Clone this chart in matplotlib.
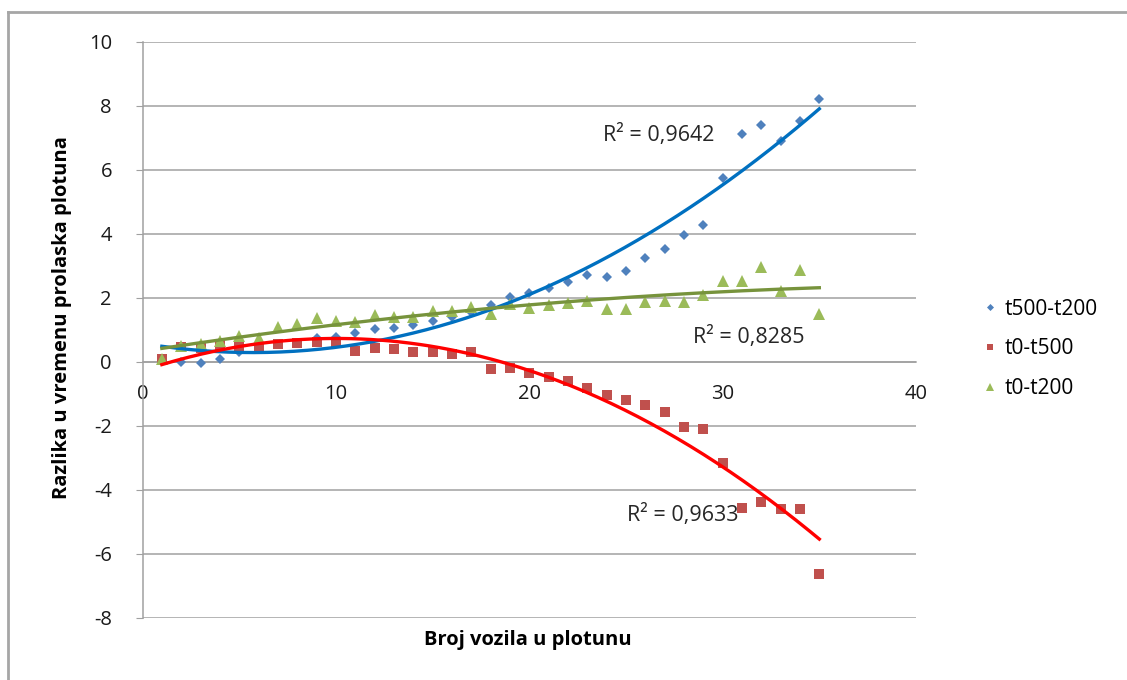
import numpy as np
import matplotlib
matplotlib.use("Agg")
import matplotlib.pyplot as plt
from matplotlib.lines import Line2D

plt.rcParams['font.family'] = ['Open Sans', 'DejaVu Sans']

vehicles = list(range(1, 36))
t500_t200 = [0.05, -0.02, -0.05, 0.10, 0.31, 0.45, 0.55, 0.60, 0.73, 0.76,
             0.91, 1.01, 1.04, 1.15, 1.28, 1.41, 1.56, 1.77, 2.03, 2.14,
             2.31, 2.48, 2.71, 2.66, 2.83, 3.23, 3.51, 3.96, 4.28, 5.73,
             7.12, 7.40, 6.90, 7.53, 8.20]
t0_t500 = [0.07, 0.47, 0.42, 0.52, 0.50, 0.47, 0.54, 0.57, 0.63, 0.63,
           0.33, 0.42, 0.40, 0.29, 0.29, 0.24, 0.29, -0.24, -0.19, -0.36,
           -0.47, -0.59, -0.81, -1.04, -1.20, -1.36, -1.56, -2.05, -2.09, -3.18,
           -4.58, -4.37, -4.60, -4.61, -6.63]
t0_t200 = [0.10, 0.49, 0.55, 0.66, 0.80, 0.73, 1.09, 1.17, 1.36, 1.27,
           1.25, 1.46, 1.39, 1.41, 1.59, 1.58, 1.70, 1.48, 1.80, 1.67,
           1.77, 1.84, 1.91, 1.64, 1.64, 1.86, 1.91, 1.86, 2.08, 2.52,
           2.52, 2.95, 2.22, 2.87, 1.49]
series_names = ['t500-t200', 't0-t500', 't0-t200']
r2_labels = ['R² = 0,9642', 'R² = 0,9633', 'R² = 0,8285']
trend_degree = 2
x_ticks = [0, 10, 20, 30, 40]
y_ticks = [-8, -6, -4, -2, 0, 2, 4, 6, 8, 10]
x_label = 'Broj vozila u plotunu'
y_label = 'Razlika u vremenu prolaska plotuna'

marker_colors = ['#4F81BD', '#C0504D', '#9BBB59']
line_colors = ['#0070C0', '#FF0000', '#77933C']
markers = ['D', 's', '^']
msizes = [5.5, 7, 8]

fig = plt.figure(figsize=(11.27, 6.80), dpi=100)
ax = fig.add_axes([142.5 / 1127, 1 - 617.7 / 680, (916 - 142.5) / 1127, (617.7 - 41.7) / 680])

x = np.array(vehicles, dtype=float)
xs = np.linspace(x.min(), x.max(), 200)
data = [t500_t200, t0_t500, t0_t200]
for ys, name, mc, mk, ms in zip(data, series_names, marker_colors, markers, msizes):
    ax.plot(x, ys, linestyle='none', marker=mk, markersize=ms, color=mc,
            markeredgewidth=0, label=name, zorder=3)
for ys, lc in zip(data, line_colors):
    coef = np.polyfit(x, np.array(ys), trend_degree)
    ax.plot(xs, np.polyval(coef, xs), color=lc, lw=2.4, zorder=4)

ax.set_xlim(0, 40)
ax.set_ylim(-8, 10)
ax.set_xticks(x_ticks)
ax.set_yticks(y_ticks)
ax.set_yticklabels([str(v) for v in y_ticks])
ax.grid(axis='y', color='#A0A0A0', lw=1.1)
ax.set_axisbelow(True)
for s in ['top', 'right']:
    ax.spines[s].set_visible(False)
ax.spines['left'].set_color('#A0A0A0')
ax.spines['left'].set_linewidth(1.1)
ax.spines['bottom'].set_position(('data', 0))
ax.spines['bottom'].set_color('#A0A0A0')
ax.spines['bottom'].set_linewidth(1.1)
ax.tick_params(axis='x', length=0, pad=16, labelsize=14.5, labelcolor='#1a1a1a')
ax.tick_params(axis='y', length=5, color='#A0A0A0', pad=17, labelsize=14.5, labelcolor='#1a1a1a')

fig.text(528 / 1127, 1 - 640 / 680, x_label, ha='center', va='center',
         fontsize=14.5, fontweight='bold')
fig.text(62 / 1127, 1 - 318 / 680, y_label, ha='center', va='center',
         rotation=90, fontsize=14.5, fontweight='bold')

# R^2 annotations
ax.text(23.8, 7.08, r2_labels[0], fontsize=15.5, ha='left', va='center', color='#262626')
ax.text(25.05, -4.79, r2_labels[1], fontsize=15.5, ha='left', va='center', color='#262626')
ax.text(28.46, 0.77, r2_labels[2], fontsize=15.5, ha='left', va='center', color='#262626')

handles = [Line2D([], [], linestyle='none', marker=mk, markersize=ms * 0.65, color=mc,
                  markeredgewidth=0) for mk, ms, mc in zip(markers, msizes, marker_colors)]
fig.legend(handles, series_names, loc='center left',
           bbox_to_anchor=(965 / 1127, 1 - 349 / 680), frameon=False,
           fontsize=15, handlelength=0.6, handletextpad=0.4, labelspacing=0.9)

# outer frame (left and top edges)
fig.add_artist(Line2D([8 / 1127, 8 / 1127], [0, 1 - 12 / 680], color='#A6A6A6', lw=2))
fig.add_artist(Line2D([8 / 1127, 1], [1 - 12 / 680, 1 - 12 / 680], color='#A6A6A6', lw=2))

fig.savefig('out.png', dpi=100, facecolor='white')
